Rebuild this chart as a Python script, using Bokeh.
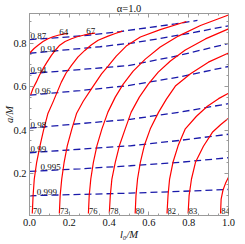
import numpy as np
from bokeh.plotting import figure
from bokeh.models import (Range1d, LinearAxis, FixedTicker, LabelSet, ColumnDataSource,
                          CustomJSTickFormatter, NumeralTickFormatter)
from bokeh.embed import file_html
from bokeh.resources import INLINE

# ---------------- data ----------------
title_text = "α=1.0"
x_label = "l₀/M"
y_label = "a/M"

x_ticks = [0.0, 0.2, 0.4, 0.6, 0.8, 1.0]
y_ticks = [0.2, 0.4, 0.6, 0.8]
x_minor = [round(0.05 * i, 2) for i in range(0, 21)]
y_minor = [round(0.05 * i, 2) for i in range(1, 19)]

# blue dashed contours (levels)
dash_labels = ["0.87", "0.91", "0.94", "0.96", "0.98", "0.99", "0.995", "0.999"]
d087_x = [0.0, 0.154, 0.305, 0.456, 0.607, 0.733, 0.844]
d087_y = [0.817, 0.826, 0.838, 0.854, 0.873, 0.889, 0.905]
d091_x = [0.0, 0.154, 0.355, 0.515, 0.657, 0.809, 1.0]
d091_y = [0.754, 0.767, 0.784, 0.801, 0.822, 0.847, 0.880]
d094_x = [0.0, 0.254, 0.496, 0.748, 1.0]
d094_y = [0.660, 0.679, 0.697, 0.743, 0.799]
d096_x = [0.0, 0.254, 0.496, 0.748, 1.0]
d096_y = [0.561, 0.582, 0.605, 0.644, 0.693]
d098_x = [0.0, 0.254, 0.506, 0.758, 1.0]
d098_y = [0.409, 0.430, 0.450, 0.483, 0.522]
d099_x = [0.0, 0.254, 0.506, 0.758, 1.0]
d099_y = [0.296, 0.312, 0.328, 0.353, 0.381]
d0995_x = [0.0, 0.254, 0.506, 0.758, 1.0]
d0995_y = [0.210, 0.222, 0.236, 0.252, 0.273]
d0999_x = [0.0, 0.254, 0.506, 0.758, 1.0]
d0999_y = [0.098, 0.104, 0.110, 0.118, 0.127]
dash_label_x = [0.005, 0.055, 0.005, 0.028, 0.005, 0.005, 0.055, 0.036]

# red solid contours
r64_x = [0.0, 0.023, 0.043, 0.068, 0.093, 0.118, 0.144, 0.169, 0.194]
r64_y = [0.754, 0.776, 0.791, 0.808, 0.821, 0.830, 0.837, 0.842, 0.845]
r67_x = [0.006, 0.018, 0.034, 0.050, 0.068, 0.088, 0.110, 0.131, 0.152, 0.179, 0.211, 0.239, 0.270, 0.300, 0.330]
r67_y = [0.563, 0.593, 0.621, 0.653, 0.683, 0.713, 0.744, 0.769, 0.791, 0.808, 0.821, 0.830, 0.837, 0.843, 0.847]
r70_x = [0.014, 0.018, 0.024, 0.036, 0.053, 0.070, 0.092, 0.118, 0.139, 0.160, 0.184, 0.211, 0.244, 0.278, 0.310, 0.345, 0.395, 0.431, 0.466]
r70_y = [0.0166, 0.0983, 0.175, 0.252, 0.329, 0.398, 0.475, 0.529, 0.575, 0.621, 0.663, 0.698, 0.737, 0.767, 0.792, 0.814, 0.833, 0.845, 0.856]
r73_x = [0.150, 0.154, 0.162, 0.174, 0.190, 0.213, 0.237, 0.270, 0.311, 0.362, 0.395, 0.436, 0.486, 0.557, 0.657, 0.788]
r73_y = [0.0166, 0.0983, 0.175, 0.252, 0.329, 0.406, 0.478, 0.533, 0.590, 0.659, 0.695, 0.741, 0.787, 0.829, 0.863, 0.900]
r76_x = [0.296, 0.300, 0.308, 0.321, 0.339, 0.364, 0.394, 0.431, 0.471, 0.521, 0.582, 0.657, 0.748, 0.859, 1.0]
r76_y = [0.0166, 0.0983, 0.175, 0.252, 0.329, 0.406, 0.483, 0.552, 0.612, 0.672, 0.727, 0.783, 0.833, 0.882, 0.930]
r78_x = [0.401, 0.406, 0.414, 0.431, 0.452, 0.481, 0.511, 0.552, 0.597, 0.647, 0.708, 0.783, 0.884, 1.0]
r78_y = [0.0166, 0.0983, 0.175, 0.252, 0.329, 0.406, 0.483, 0.552, 0.612, 0.667, 0.718, 0.769, 0.820, 0.866]
r80_x = [0.531, 0.535, 0.543, 0.557, 0.577, 0.607, 0.649, 0.688, 0.733, 0.809, 0.899, 1.0]
r80_y = [0.0166, 0.0983, 0.175, 0.252, 0.329, 0.406, 0.483, 0.543, 0.603, 0.660, 0.713, 0.755]
r82_x = [0.691, 0.696, 0.704, 0.721, 0.747, 0.783, 0.839, 0.894, 0.950, 1.0]
r82_y = [0.0166, 0.0983, 0.175, 0.252, 0.329, 0.406, 0.464, 0.510, 0.545, 0.570]
r83_x = [0.797, 0.802, 0.814, 0.834, 0.874, 0.919, 0.960, 1.0]
r83_y = [0.0166, 0.0983, 0.175, 0.252, 0.326, 0.390, 0.425, 0.455]
r84_x = [0.960, 0.963, 0.972, 0.985, 1.0]
r84_y = [0.0166, 0.0826, 0.123, 0.155, 0.183]

red_top_labels = ["64", "67"]
red_bottom_labels = ["70", "73", "76", "78", "80", "82", "83", "84"]

# ---------------- figure ----------------
SERIF = "Liberation Serif"
FRAME = "#9a9a9a"
RED = "#ff0000"
BLUE = "#1a1aaa"
TXT = "#111111"

p = figure(width=245, height=244, x_range=Range1d(0.0, 1.0), y_range=Range1d(0.007, 0.937),
           output_backend="svg", toolbar_location=None,
           min_border_left=29, min_border_right=17, min_border_top=13, min_border_bottom=29)
p.grid.visible = False
p.outline_line_color = FRAME
p.background_fill_color = "white"
p.border_fill_color = "white"

p.title.text = title_text
p.title.align = "center"
p.title.text_font = SERIF
p.title.text_font_style = "normal"
p.title.text_font_size = "10.5px"
p.title.text_color = TXT
p.title.standoff = 0
p.title.offset = -2

def style_axis(ax, ticks, minor, show_labels):
    ax.ticker = FixedTicker(ticks=ticks, minor_ticks=minor)
    ax.axis_line_color = FRAME
    ax.major_tick_line_color = FRAME
    ax.minor_tick_line_color = FRAME
    ax.major_tick_in = 4
    ax.major_tick_out = 0
    ax.minor_tick_in = 2
    ax.minor_tick_out = 0
    ax.major_label_text_font = SERIF
    ax.major_label_text_color = TXT
    if show_labels:
        ax.formatter = NumeralTickFormatter(format="0.0")
        ax.major_label_text_font_size = "10.5px"
    else:
        ax.formatter = CustomJSTickFormatter(code="return ''")
        ax.major_label_text_font_size = "0px"
        ax.major_label_standoff = 0

xa = p.xaxis[0]
style_axis(xa, x_ticks, x_minor, True)
xa.major_label_standoff = 3
xa.axis_label = x_label
xa.axis_label_standoff = 0
xa.axis_label_text_font = SERIF
xa.axis_label_text_font_style = "italic"
xa.axis_label_text_font_size = "10.5px"
xa.axis_label_text_color = TXT

ya = p.yaxis[0]
style_axis(ya, y_ticks, y_minor, True)
ya.major_label_standoff = 3
ya.axis_label = y_label
ya.axis_label_standoff = -5
ya.axis_label_text_font = SERIF
ya.axis_label_text_font_style = "italic"
ya.axis_label_text_font_size = "10.5px"
ya.axis_label_text_color = TXT

top_ax = LinearAxis()
style_axis(top_ax, x_ticks, x_minor, False)
p.add_layout(top_ax, "above")
right_ax = LinearAxis()
style_axis(right_ax, y_ticks, y_minor, False)
p.add_layout(right_ax, "right")

# dashed contours
dashed = [(d087_x, d087_y), (d091_x, d091_y), (d094_x, d094_y), (d096_x, d096_y),
          (d098_x, d098_y), (d099_x, d099_y), (d0995_x, d0995_y), (d0999_x, d0999_y)]
for xs, ys in dashed:
    p.line(xs, ys, line_color=BLUE, line_width=1.3, line_dash="7 4")

# red contours
reds = [(r64_x, r64_y), (r67_x, r67_y), (r70_x, r70_y), (r73_x, r73_y), (r76_x, r76_y),
        (r78_x, r78_y), (r80_x, r80_y), (r82_x, r82_y), (r83_x, r83_y), (r84_x, r84_y)]
for xs, ys in reds:
    p.line(xs, ys, line_color=RED, line_width=1.2)

def labelset(xs, ys, texts, align, baseline, size="8.5px"):
    src = ColumnDataSource(dict(x=xs, y=ys, t=texts))
    return LabelSet(x="x", y="y", text="t", source=src, text_font=SERIF, text_font_size=size,
                    text_color=TXT, text_align=align, text_baseline=baseline)

# dashed contour labels
dl_y = [float(np.interp(lx, xs, ys)) + 0.002 for lx, (xs, ys) in zip(dash_label_x, dashed)]
p.add_layout(labelset(dash_label_x, dl_y, dash_labels, "left", "alphabetic", "9px"))

# red labels at the top ends
top_curves = [(r64_x, r64_y), (r67_x, r67_y)]
tl_x = [xs[-1] - 0.022 for xs, ys in top_curves]
tl_y = [ys[-1] + 0.008 for xs, ys in top_curves]
p.add_layout(labelset(tl_x, tl_y, red_top_labels, "center", "middle", "9px"))

# red labels at the bottom ends
bottom_curves = reds[2:]
bl_x = [xs[0] + 0.003 for xs, ys in bottom_curves]
bl_y = [0.0134 for _ in bottom_curves]
p.add_layout(labelset(bl_x, bl_y, red_bottom_labels, "left", "alphabetic", "8.5px"))

open("out.html", "w").write(file_html(p, INLINE))
